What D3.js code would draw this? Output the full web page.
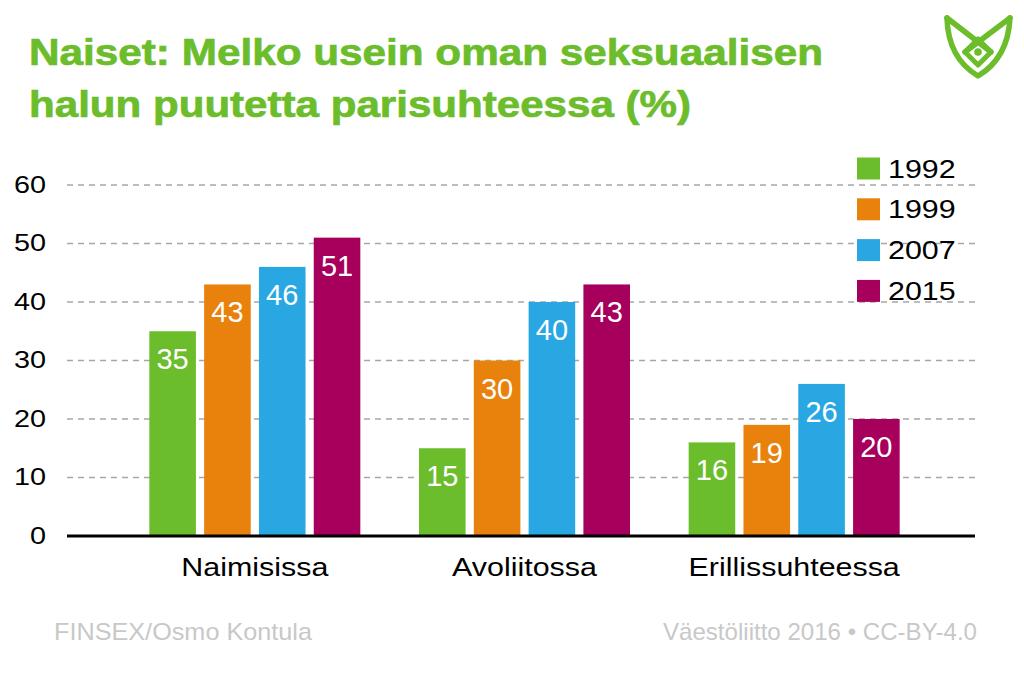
<!DOCTYPE html>
<html><head><meta charset="utf-8">
<script src="https://cdn.jsdelivr.net/npm/d3@7"></script>
<style>body{margin:0;background:#fff}svg{display:block}text{font-family:"Liberation Sans",Arial,sans-serif}</style>
</head><body>
<script>
const categories = ["Naimisissa", "Avoliitossa", "Erillissuhteessa"];
const years = ["1992", "1999", "2007", "2015"];
const v1992 = [35, 15, 16];
const v1999 = [43, 30, 19];
const v2007 = [46, 40, 26];
const v2015 = [51, 43, 20];
const yTicks = [0, 10, 20, 30, 40, 50, 60];
const colors = ["#6BBD2B", "#E8820C", "#29A7E3", "#A6005C"];
const seriesVals = [v1992, v1999, v2007, v2015];

const W = 1024, H = 681;
const svg = d3.select("body").append("svg").attr("width", W).attr("height", H);

const y = d3.scaleLinear().domain([0, 60]).range([536, 185]);
const x0 = d3.scaleBand().domain(categories).range([120, 929]).padding(0);
const x1 = d3.scaleBand().domain(years).range([0, 211]).paddingInner(0.15).paddingOuter(0);

// title
const title = svg.append("g").attr("fill", "#6BBD2B").attr("stroke", "#6BBD2B").attr("stroke-width", 0.7)
  .attr("font-weight", "bold").attr("font-size", 37);
title.append("text").attr("x", 29).attr("y", 65).attr("textLength", 794).attr("lengthAdjust", "spacingAndGlyphs").text("Naiset: Melko usein oman seksuaalisen");
title.append("text").attr("x", 29).attr("y", 117).attr("textLength", 662).attr("lengthAdjust", "spacingAndGlyphs").text("halun puutetta parisuhteessa (%)");

// gridlines
svg.append("g").selectAll("line").data(yTicks.filter(d => d > 0)).join("line")
  .attr("x1", 67).attr("x2", 975).attr("y1", d => y(d)).attr("y2", d => y(d))
  .attr("stroke", "#a6a6a6").attr("stroke-width", 1.5).attr("stroke-dasharray", "6,5");

// y axis labels
const yAxis = d3.axisLeft(y).tickValues(yTicks).tickSize(0).tickPadding(0);
const ya = svg.append("g").attr("transform", "translate(46,0)").call(yAxis);
ya.select(".domain").remove();
ya.selectAll("text").attr("font-size", 24).attr("fill", "#000").attr("font-family", "Liberation Sans, Arial, sans-serif")
  .attr("dy", "0.31em").attr("transform", "scale(1.2,1)");

// bars
const groups = svg.append("g").selectAll("g").data(categories).join("g")
  .attr("transform", d => `translate(${x0(d) + (x0.bandwidth() - 211) / 2},0)`);
groups.each(function(cat, ci) {
  const g = d3.select(this);
  years.forEach((yr, si) => {
    const val = seriesVals[si][ci];
    g.append("rect").attr("x", x1(yr)).attr("width", x1.bandwidth())
      .attr("y", y(val)).attr("height", y(0) - y(val)).attr("fill", colors[si]);
    g.append("text").attr("x", x1(yr) + x1.bandwidth() / 2).attr("y", y(val) + 38)
      .attr("text-anchor", "middle").attr("fill", "#fff").attr("font-size", 29).text(val);
  });
});

// x axis baseline
svg.append("line").attr("x1", 67).attr("x2", 975).attr("y1", y(0)).attr("y2", y(0))
  .attr("stroke", "#000").attr("stroke-width", 3);

// category labels
const xAxis = d3.axisBottom(x0).tickSize(0).tickPadding(0);
const xa = svg.append("g").attr("transform", `translate(0,${y(0) + 40})`).call(xAxis);
xa.select(".domain").remove();
xa.selectAll("text").attr("font-size", 26).attr("fill", "#000").attr("font-family", "Liberation Sans, Arial, sans-serif")
  .attr("y", 0).attr("dy", 0).attr("transform", "scale(1.17,1)");

// legend
const lg = svg.append("g").selectAll("g").data(years).join("g")
  .attr("transform", (d, i) => `translate(857,${157.5 + i * 40.8})`);
lg.append("rect").attr("width", 23).attr("height", 22).attr("fill", (d, i) => colors[i]);
lg.append("text").attr("font-size", 26).attr("fill", "#000")
  .attr("transform", "translate(31,20) scale(1.17,1)").text(d => d);

// footer
svg.append("text").attr("x", 54).attr("y", 640).attr("font-size", 24).attr("textLength", 258).attr("lengthAdjust", "spacingAndGlyphs").attr("fill", "#c8c8c8").text("FINSEX/Osmo Kontula");
svg.append("text").attr("x", 663).attr("y", 640).attr("font-size", 24).attr("textLength", 314).attr("lengthAdjust", "spacingAndGlyphs").attr("fill", "#c8c8c8").text("Väestöliitto 2016 • CC-BY-4.0");

// logo
const logo = svg.append("g").attr("fill", "none").attr("stroke", "#6BBD2B").attr("stroke-width", 5.5).attr("stroke-linejoin", "round").attr("stroke-linecap", "round");
logo.append("path").attr("d", "M947,18 Q948,58 978,76 Q1008,58 1010,18");
logo.append("path").attr("d", "M947,18 L991,52");
logo.append("path").attr("d", "M1010,18 L965,52");
logo.append("path").attr("d", "M978,39 L991,52 L978,65 L965,52 Z").attr("stroke-width", 5);
logo.append("circle").attr("cx", 978).attr("cy", 52).attr("r", 3.8).attr("fill", "#6BBD2B").attr("stroke", "none");
</script>
</body></html>
